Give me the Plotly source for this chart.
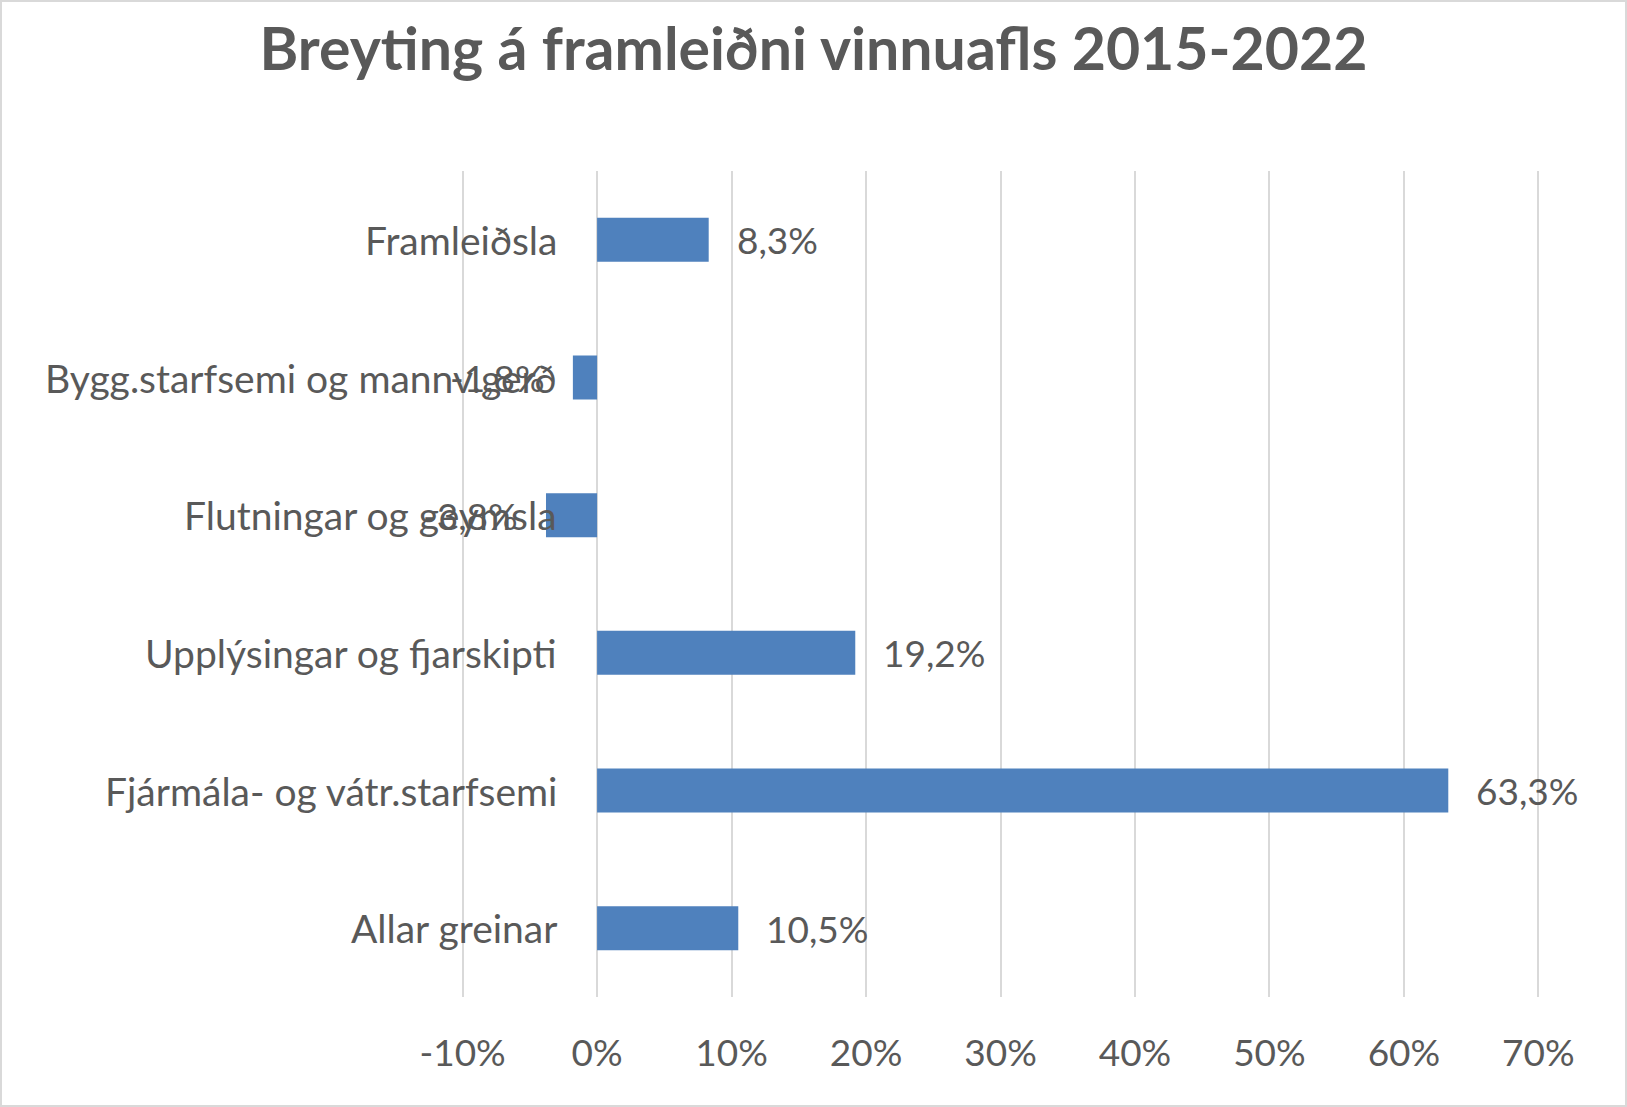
import plotly.graph_objects as go

categories = ["Framleiðsla", "Bygg.starfsemi og mannv.gerð", "Flutningar og geymsla",
              "Upplýsingar og fjarskipti", "Fjármála- og vátr.starfsemi", "Allar greinar"]
values = [0.083, -0.018, -0.038, 0.192, 0.633, 0.105]
tick_vals = [-0.1, 0.0, 0.1, 0.2, 0.3, 0.4, 0.5, 0.6, 0.7]
tick_text = ["-10%", "0%", "10%", "20%", "30%", "40%", "50%", "60%", "70%"]
title_text = "Breyting á framleiðni vinnuafls 2015-2022"

W, H = 1627, 1107
ML, MR, MT, MB = 461, 87, 171, 110
TEXT = "#595959"
FONT = "Lato"

labels = [f"{v*100:.1f}".replace(".", ",") + "%" for v in values]

fig = go.Figure()
fig.add_trace(go.Bar(
    y=categories, x=values, orientation="h",
    marker=dict(color="#4F81BD", line=dict(width=0)),
    hoverinfo="skip",
))

annotations = []
for c in categories:
    annotations.append(dict(x=0, y=c, xref="x", yref="y", text=c, showarrow=False,
                            xanchor="right", yanchor="middle", xshift=-38,
                            font=dict(family=FONT, size=39, color=TEXT)))
for c, v, t in zip(categories, values, labels):
    annotations.append(dict(x=v, y=c, xref="x", yref="y", text=t, showarrow=False,
                            xanchor="left" if v >= 0 else "right", yanchor="middle",
                            xshift=26 if v >= 0 else -26,
                            font=dict(family=FONT, size=37, color=TEXT)))

pw = W - ML - MR
ph = H - MT - MB
def px_x(p): return (p - ML) / pw
def px_y(p): return (H - MB - p) / ph

fig.update_layout(
    width=W, height=H,
    margin=dict(l=ML, r=MR, t=MT, b=MB, autoexpand=False),
    paper_bgcolor="white", plot_bgcolor="white",
    showlegend=False,
    bargap=0.68,
    title=dict(text=f"<b>{title_text}</b>", x=0.5, xanchor="center",
               y=1 - 49 / H, yanchor="middle", yref="container",
               font=dict(family=FONT, size=59, color=TEXT)),
    xaxis=dict(range=[-0.1012, 0.7012], tickvals=tick_vals, ticktext=tick_text,
               showgrid=True, gridcolor="#D9D9D9", gridwidth=2,
               zeroline=False, showline=False, ticks="", automargin=False,
               ticklabelstandoff=31,
               tickfont=dict(family=FONT, size=37, color=TEXT)),
    yaxis=dict(categoryorder="array", categoryarray=categories, autorange="reversed",
               showticklabels=False, showgrid=False, zeroline=False, showline=False,
               ticks="", automargin=False),
    annotations=annotations,
    shapes=[dict(type="rect", xref="paper", yref="paper",
                 x0=px_x(1), x1=px_x(W - 1), y0=px_y(H - 1), y1=px_y(1),
                 line=dict(color="#D9D9D9", width=2), fillcolor="rgba(0,0,0,0)", layer="below")],
)

fig.write_html("out.html", config={"displayModeBar": False},
               post_script="document.body.style.margin='0';document.body.style.overflow='hidden';")
